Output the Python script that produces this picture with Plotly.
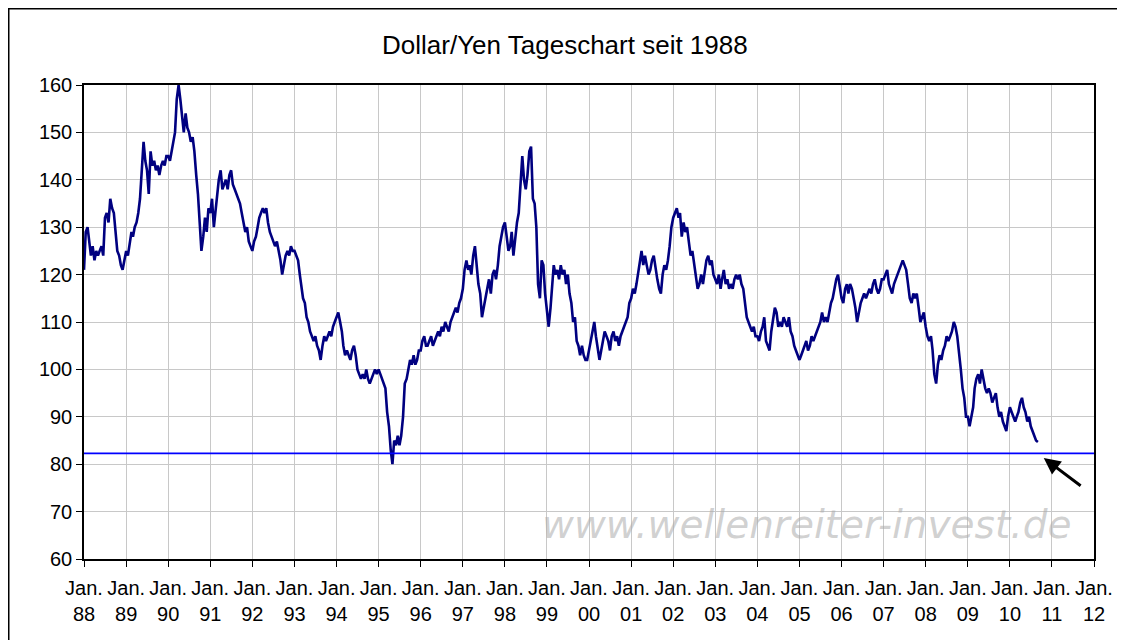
import pandas as pd
import plotly.graph_objects as go

# Dollar/Yen at two points per month (1st and 16th)
usdjpy_1988 = [121, 129, 130, 127, 124, 126, 123, 125, 124, 125, 126, 124, 132, 133, 131, 136, 134, 133, 128, 125, 124, 122, 121, 123]
usdjpy_1989 = [125, 124, 127, 129, 128, 130, 131, 133, 136, 143, 148, 144, 142, 137, 146, 143, 144, 142, 143, 141, 143, 144, 143, 145]
usdjpy_1990 = [145, 144, 146, 148, 150, 157, 160, 157, 154, 150, 154, 151, 150, 148, 149, 146, 141, 137, 131, 125, 128, 132, 129, 134]
usdjpy_1991 = [133, 136, 130, 134, 137, 140, 142, 138, 139, 140, 138, 141, 142, 139, 138, 137, 136, 135, 133, 131, 129, 130, 127, 126]
usdjpy_1992 = [125, 127, 128, 130, 132, 133, 134, 133, 134, 131, 129, 128, 127, 126, 127, 125, 123, 120, 122, 124, 125, 124, 126, 125]
usdjpy_1993 = [125, 124, 123, 120, 117, 115, 114, 111, 110, 108, 107, 106, 107, 105, 104, 102, 105, 107, 106, 107, 108, 107, 109, 110]
usdjpy_1994 = [111, 112, 110, 108, 105, 103, 104, 103, 102, 104, 105, 103, 100, 99, 98, 99, 98, 100, 98, 97, 98, 99, 100, 99]
usdjpy_1995 = [100, 99, 98, 97, 96, 91, 88, 83, 80, 85, 84, 86, 84, 86, 90, 97, 98, 100, 102, 101, 103, 101, 102, 104]
usdjpy_1996 = [104, 106, 107, 105, 105, 106, 107, 105, 106, 107, 108, 107, 109, 108, 110, 109, 108, 110, 111, 112, 113, 112, 114, 115]
usdjpy_1997 = [117, 121, 123, 121, 122, 120, 124, 126, 122, 118, 116, 111, 113, 115, 117, 119, 116, 120, 121, 119, 122, 126, 128, 130]
usdjpy_1998 = [131, 128, 125, 126, 129, 124, 128, 131, 133, 138, 145, 140, 138, 141, 146, 147, 136, 135, 130, 118, 115, 123, 122, 116]
usdjpy_1999 = [112, 109, 113, 119, 122, 120, 121, 119, 122, 120, 121, 118, 120, 116, 114, 110, 111, 106, 105, 103, 105, 103, 102, 102]
usdjpy_2000 = [104, 106, 108, 110, 107, 105, 102, 104, 106, 108, 107, 106, 104, 107, 108, 106, 107, 105, 107, 108, 109, 110, 111, 114]
usdjpy_2001 = [115, 117, 116, 118, 120, 123, 125, 122, 124, 122, 120, 121, 123, 124, 121, 119, 117, 116, 120, 122, 121, 123, 126, 130]
usdjpy_2002 = [132, 133, 134, 132, 133, 128, 131, 129, 130, 127, 124, 125, 122, 119, 117, 118, 120, 118, 121, 123, 124, 122, 123, 120]
usdjpy_2003 = [119, 118, 120, 117, 119, 121, 118, 119, 117, 118, 117, 119, 120, 119, 120, 118, 117, 114, 111, 110, 109, 108, 109, 107]
usdjpy_2004 = [107, 106, 108, 109, 111, 106, 105, 104, 108, 110, 113, 112, 109, 110, 109, 111, 110, 109, 111, 108, 107, 105, 104, 103]
usdjpy_2005 = [102, 103, 104, 105, 106, 104, 105, 107, 106, 107, 108, 109, 110, 112, 110, 111, 110, 112, 114, 115, 117, 119, 120, 117]
usdjpy_2006 = [115, 114, 117, 118, 116, 118, 117, 115, 113, 110, 112, 114, 115, 116, 115, 116, 117, 116, 118, 119, 117, 116, 117, 119]
usdjpy_2007 = [119, 120, 121, 118, 117, 116, 118, 119, 120, 121, 122, 123, 122, 121, 118, 115, 114, 116, 115, 116, 113, 110, 111, 112]
usdjpy_2008 = [109, 107, 106, 107, 104, 99, 97, 101, 103, 102, 104, 105, 107, 106, 107, 108, 110, 109, 107, 104, 100, 96, 94, 90]
usdjpy_2009 = [90, 88, 90, 92, 96, 98, 99, 97, 100, 98, 96, 95, 96, 95, 93, 94, 95, 92, 90, 91, 89, 88, 87, 90]
usdjpy_2010 = [92, 91, 90, 89, 90, 91, 93, 94, 92, 91, 89, 90, 88, 87, 86, 85, 84.7]

support_level = 82.3
tick_years = list(range(1988, 2013))
tick_labels = ["Jan.<br>%02d" % (y % 100) for y in tick_years]

yearly = [usdjpy_1988, usdjpy_1989, usdjpy_1990, usdjpy_1991, usdjpy_1992, usdjpy_1993,
          usdjpy_1994, usdjpy_1995, usdjpy_1996, usdjpy_1997, usdjpy_1998, usdjpy_1999,
          usdjpy_2000, usdjpy_2001, usdjpy_2002, usdjpy_2003, usdjpy_2004, usdjpy_2005,
          usdjpy_2006, usdjpy_2007, usdjpy_2008, usdjpy_2009, usdjpy_2010]

dates, values = [], []
for i, vals in enumerate(yearly):
    year = 1988 + i
    for k, v in enumerate(vals):
        dates.append(pd.Timestamp(year, k // 2 + 1, 1 if k % 2 == 0 else 16))
        values.append(v)

fig = go.Figure()

# the rate itself
fig.add_trace(go.Scatter(x=dates, y=values, mode='lines',
                         line=dict(color='#000080', width=2.6),
                         showlegend=False, hoverinfo='skip'))

# support line across the whole chart
fig.add_trace(go.Scatter(x=['1988-01-01', '2012-01-01'], y=[support_level, support_level],
                         mode='lines', line=dict(color='#0000ff', width=1.8),
                         showlegend=False, hoverinfo='skip'))

font_family = "Liberation Sans, Arial, sans-serif"

# page body adds 8px, so margins are set 8px smaller on left/top
fig.update_layout(
    width=1125, height=640,
    margin=dict(l=76, r=39, t=77, b=89),
    paper_bgcolor='white', plot_bgcolor='white',
    font=dict(family=font_family, size=20, color='black'),
    title=dict(text="Dollar/Yen Tageschart seit 1988", x=0.495, xref='container',
               y=0.942, yanchor='middle', font=dict(size=26, family=font_family, color='black')),
    xaxis=dict(
        type='date', range=['1988-01-01', '2012-01-01'],
        tickvals=['%d-01-01' % y for y in tick_years], ticktext=tick_labels,
        ticks='outside', ticklen=6, tickcolor='black', tickwidth=1,
        ticklabelstandoff=4,
        showgrid=True, gridcolor='#c8c8c8', gridwidth=1,
        showline=True, linecolor='black', linewidth=1.5, mirror=True,
        tickfont=dict(size=20), zeroline=False
    ),
    yaxis=dict(
        range=[60, 160], dtick=10, tick0=60,
        ticks='outside', ticklen=6, tickcolor='black', tickwidth=1,
        showgrid=True, gridcolor='#c8c8c8', gridwidth=1,
        showline=True, linecolor='black', linewidth=1.5, mirror=True,
        tickfont=dict(size=20), zeroline=False
    ),
    shapes=[dict(type='rect', xref='paper', yref='paper',
                 x0=-0.0745, x1=1.0238, y0=-0.25, y1=1.161,
                 line=dict(color='black', width=1.5), layer='below')],
    annotations=[
        # watermark
        dict(text="<i>www.wellenreiter-invest.de</i>", x='2005-03-01', y=67.2,
             xref='x', yref='y', showarrow=False,
             font=dict(family="DejaVu Sans", size=39, color='rgba(170,170,170,0.55)')),
        # arrow to the support line
        dict(x='2010-10-22', y=81.3, ax='2011-09-20', ay=75.2,
             xref='x', yref='y', axref='x', ayref='y', text='',
             showarrow=True, arrowhead=2, arrowsize=1.1, arrowwidth=3, arrowcolor='black'),
    ],
)

fig.write_html("out.html")
